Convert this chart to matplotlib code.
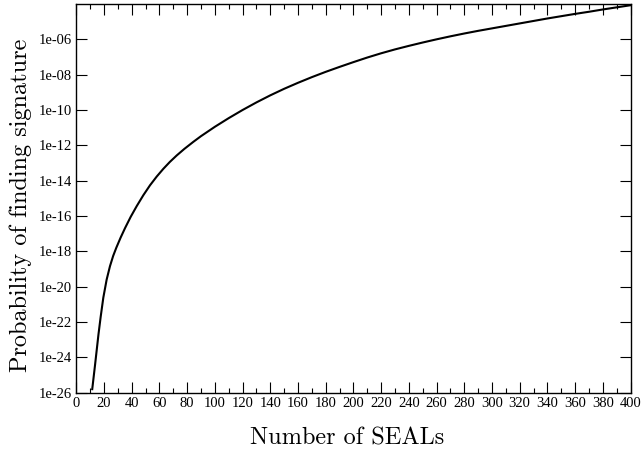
import matplotlib
matplotlib.use("Agg")
import matplotlib.pyplot as plt
import numpy as np
from matplotlib.ticker import FixedLocator, MultipleLocator, FuncFormatter

# ---------------- data ----------------------------------------
seals = [11.5, 13.5, 16, 17.6, 19.5, 21.9, 24.3, 26.6, 28.9, 32, 35.2,
         39.3, 43.6, 48.4, 53.2, 58, 62.8, 67.5, 72.5, 78, 84.5, 90, 100,
         110, 120, 130, 140, 150, 160, 170, 180, 190, 200, 210, 220,
         230, 240, 250, 260, 270, 280, 290, 300, 310, 320, 330, 340,
         350, 360, 370, 380, 390, 400]
log_prob = [-25.8, -24.45, -22.7, -21.7, -20.62, -19.6, -18.84, -18.26,
            -17.79, -17.22, -16.68, -16.04, -15.44, -14.82, -14.26, -13.77,
            -13.33, -12.94, -12.57, -12.2, -11.8, -11.48, -10.95, -10.46,
            -10.0, -9.57, -9.17, -8.8, -8.46, -8.14, -7.84, -7.56, -7.29,
            -7.03, -6.79, -6.57, -6.37, -6.18, -6.0, -5.83, -5.67, -5.52,
            -5.38, -5.24, -5.1, -4.96, -4.82, -4.69, -4.56, -4.44, -4.31,
            -4.19, -4.07]
prob = [10.0 ** v for v in log_prob]

y_ticks = [1e-26, 1e-24, 1e-22, 1e-20, 1e-18, 1e-16, 1e-14, 1e-12,
           1e-10, 1e-08, 1e-06]

# ---------------- plot -----------------
fig = plt.figure(figsize=(6.42, 4.53), dpi=100)
ax = fig.add_axes([76.3 / 642, 1 - 392.7 / 453, 554.2 / 642, 388.7 / 453])

ax.plot(seals, prob, color="black", lw=1.5)

ax.set_yscale("log")
ax.set_xlim(0, 400)
ax.set_ylim(1e-26, 1e-4)

ax.xaxis.set_major_locator(MultipleLocator(20))
ax.xaxis.set_minor_locator(MultipleLocator(10))
ax.yaxis.set_major_locator(FixedLocator(y_ticks))
ax.yaxis.set_minor_locator(FixedLocator([]))
ax.yaxis.set_major_formatter(FuncFormatter(lambda v, p: "%.0e" % v))

ax.tick_params(which="both", direction="in", top=True, right=True,
               width=0.8, labelsize=10.5)
ax.tick_params(which="major", length=7.7, pad=3)
ax.tick_params(which="minor", length=3.8)
for lab in ax.get_xticklabels() + ax.get_yticklabels():
    lab.set_family("Liberation Serif")
for sp in ax.spines.values():
    sp.set_linewidth(1.0)

ax.set_xlabel("Number of SEALs", family="cmr10", fontsize=17.5)
ax.set_ylabel("Probability of finding signature", family="cmr10", fontsize=17.5)
ax.xaxis.label.set_va("center")
ax.yaxis.label.set_va("center")
ax.xaxis.set_label_coords(0.489, -0.1165)
ax.yaxis.set_label_coords(-0.1, 0.483)

fig.savefig("out.png", dpi=100)
